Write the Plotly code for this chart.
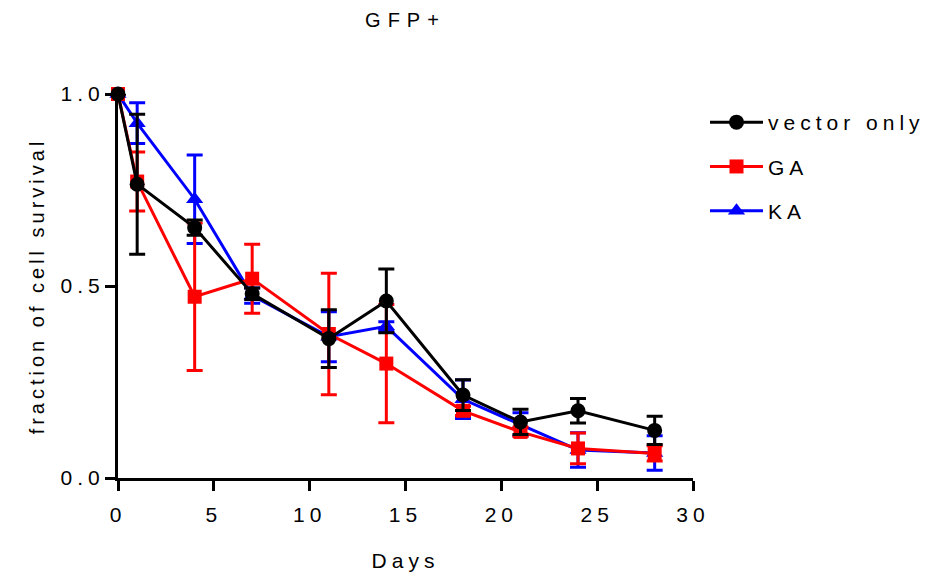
import plotly.graph_objects as go

days = [0, 1, 4, 7, 11, 14, 18, 21, 24, 28]

vector_only = [1.0, 0.765, 0.652, 0.480, 0.363, 0.461, 0.216, 0.146, 0.175, 0.124]
vector_err = [0.0, 0.182, 0.020, 0.015, 0.075, 0.083, 0.040, 0.033, 0.032, 0.037]

ga = [1.0, 0.772, 0.472, 0.519, 0.375, 0.298, 0.175, 0.120, 0.077, 0.064]
ga_err = [0.0, 0.077, 0.192, 0.090, 0.158, 0.154, 0.012, 0.012, 0.040, 0.020]

ka = [1.0, 0.924, 0.726, 0.475, 0.368, 0.395, 0.205, 0.140, 0.073, 0.065]
ka_err = [0.0, 0.053, 0.115, 0.020, 0.065, 0.012, 0.050, 0.030, 0.045, 0.045]

font_family = "Arial, Liberation Sans, sans-serif"

fig = go.Figure()

series = [
    ("KA", ka, ka_err, "#0000FF", "triangle-up", 15, 3),
    ("GA", ga, ga_err, "#FF0000", "square", 14, 2),
    ("vector only", vector_only, vector_err, "#000000", "circle", 15, 1),
]

for name, vals, errs, color, symbol, size, rank in series:
    fig.add_trace(go.Scatter(
        x=days, y=vals, name=name, legendgroup=name, legendrank=rank,
        mode="lines+markers",
        line=dict(color=color, width=3),
        marker=dict(color=color, symbol=symbol, size=size),
        error_y=dict(type="data", array=errs, visible=True,
                     color=color, thickness=3, width=8),
        cliponaxis=False,
    ))

L, R, T, B = 118, 245, 94, 99
fig.update_layout(
    width=938, height=577,
    paper_bgcolor="white", plot_bgcolor="white",
    margin=dict(l=L, r=R, t=T, b=B, autoexpand=False),
    font=dict(family=font_family, size=21, color="black"),
    title=dict(text="GFP+", x=(L + 693) / 2 / 938, xanchor="center",
               y=1 - 20 / 577, yanchor="middle", yref="container",
               font=dict(size=20, family=font_family)),
    showlegend=True,
    legend=dict(x=1 + (705 - 693) / 575, xanchor="left",
                y=1 + (94 - 102) / 383.7, yanchor="top",
                traceorder="grouped", itemwidth=53,
                tracegroupgap=14, font=dict(size=21),
                bgcolor="rgba(0,0,0,0)"),
    xaxis=dict(range=[0, 30], tickvals=[0, 5, 10, 15, 20, 25, 30],
               showline=True, linecolor="black", linewidth=3,
               ticks="outside", ticklen=10, tickwidth=3, tickcolor="black",
               ticklabelstandoff=6,
               showgrid=False, zeroline=False,
               title=dict(text="Days", font=dict(size=21), standoff=29),
               tickfont=dict(size=21)),
    yaxis=dict(range=[0, 1.0], tickvals=[0, 0.5, 1.0], tickformat=".1f",
               showline=True, linecolor="black", linewidth=3,
               ticks="outside", ticklen=10, tickwidth=3, tickcolor="black",
               ticklabelstandoff=-4,
               showgrid=False, zeroline=False,
               title=dict(text="fraction of cell survival", font=dict(size=20),
                          standoff=26),
               tickfont=dict(size=21)),
)

post = """
var st = document.createElement('style');
st.innerHTML = '.main-svg text { letter-spacing: 5px; } '
  + 'text.ytitle { letter-spacing: 4px; } '
  + 'text.gtitle { letter-spacing: 7px; } '
  + '.legend .scrollbox { clip-path: none !important; }';
document.head.appendChild(st);
var gd = document.getElementById('{plot_id}');
Plotly.newPlot(gd, gd.data, gd.layout);
"""

fig.write_html("out.html", post_script=post)
